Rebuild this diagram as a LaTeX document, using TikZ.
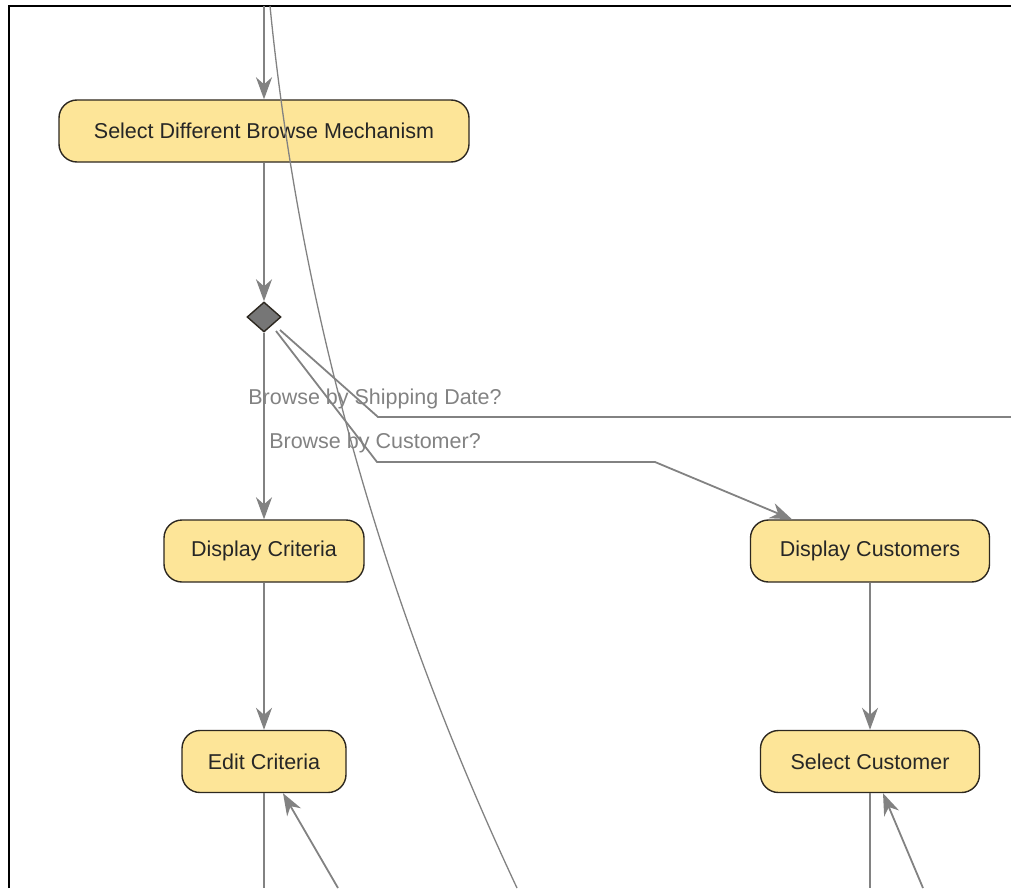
\documentclass[tikz,border=0pt]{standalone}
\usepackage{fontspec}
\setmainfont{Liberation Sans}
\usetikzlibrary{arrows.meta,shapes.geometric}
\definecolor{act-fill}{RGB}{253,229,152}
\definecolor{act-line}{RGB}{45,40,32}
\definecolor{flow-gray}{RGB}{130,130,130}
\definecolor{dec-fill}{RGB}{118,118,118}

\begin{document}
\begin{tikzpicture}[x=1pt, y=-1pt, font=\fontsize{21.5}{26}\selectfont,
            >={Stealth[length=22pt, width=16pt, inset=7pt]},
            act/.style={draw=act-line, line width=1.4pt, rounded corners=18pt,
                        fill=act-fill, text=black!85, inner sep=0pt,
                        minimum height=62pt},
            dec/.style={diamond, draw=act-line, line width=1.4pt, fill=dec-fill,
                        inner sep=0pt, minimum width=34pt, minimum height=30pt},
            flow/.style={draw=flow-gray, line width=1.8pt},
            guard/.style={text=flow-gray, anchor=base}]
          \useasboundingbox (0,0) rectangle (1011,888);
          \draw[line width=2.4pt] (8.7,888) -- (8.7,6) -- (1011,6);
          % actions
          \node[act, minimum width=410pt] (sdbm)  at (264,131)   {Select Different Browse Mechanism};
          \node[dec] (branch) at (264,317) {};
          \node[act, minimum width=200pt] (dcrit) at (264,551)   {Display Criteria};
          \node[act, minimum width=239pt] (dcust) at (870,551)   {Display Customers};
          \node[act, minimum width=164pt] (ecrit) at (264,761.5) {Edit Criteria};
          \node[act, minimum width=219pt] (scust) at (870,761.5) {Select Customer};
          % free ends and bends
          \coordinate (intop)  at (264,6);
          \coordinate (shipA)  at (280,330);
          \coordinate (shipB)  at (378,417);
          \coordinate (shipC)  at (1011,417);
          \coordinate (custA)  at (276,331);
          \coordinate (custB)  at (377,462);
          \coordinate (custC)  at (655,462);
          \coordinate (ecout)  at (264,888);
          \coordinate (ecin)   at (338,888);
          \coordinate (scout)  at (870,888);
          \coordinate (scin)   at (923,888);
          \coordinate (loopA)  at (270,6);
          \coordinate (loopB)  at (517,888);
          % flows
          \draw[->, flow] (intop) -- (sdbm);
          \draw[->, flow] (sdbm) -- (branch);
          \draw[->, flow] (branch) -- (dcrit);
          \draw[flow] (shipA) -- (shipB) -- (shipC);
          \draw[->, flow] (custA) -- (custB) -- (custC)
                -- ([xshift=-78pt]dcust.north);
          \draw[->, flow] (dcrit) -- (ecrit);
          \draw[->, flow] (dcust) -- (scust);
          \draw[flow] (ecrit) -- (ecout);
          \draw[->, flow] (ecin) -- ([xshift=19pt]ecrit.south);
          \draw[flow] (scust) -- (scout);
          \draw[->, flow] (scin) -- ([xshift=13pt]scust.south);
          \draw[draw=flow-gray, line width=1.3pt] (loopA)
                .. controls (299,300) and (379,594) .. (loopB);
          % guards
          \node[guard] (gship) at (375,404) {Browse by Shipping Date?};
          \node[guard] (gcust) at (375,448) {Browse by Customer?};
        \end{tikzpicture}
\end{document}
